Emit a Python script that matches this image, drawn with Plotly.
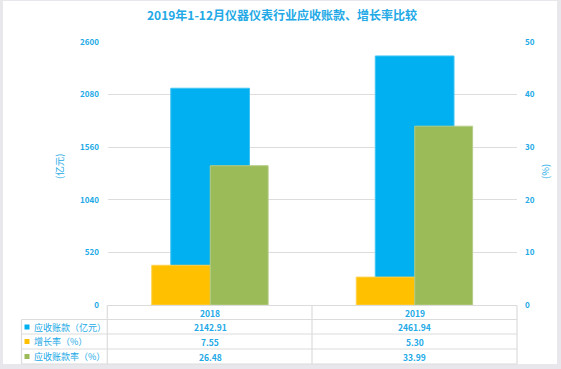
import plotly.graph_objects as go

# ---------------- data ----------------
categories = ["2018", "2019"]
receivables = [2142.91, 2461.94]        # 应收账款（亿元）
growth_rate = [7.55, 5.30]              # 增长率（%）
receivable_rate = [26.48, 33.99]        # 应收账款率（%）
series_names = ["应收账款（亿元）", "增长率（%）", "应收账款率（%）"]
left_ticks = [0, 520, 1040, 1560, 2080, 2600]
right_ticks = [0, 10, 20, 30, 40, 50]
title_text = "2019年1-12月仪器仪表行业应收账款、增长率比较"

# ---------------- style ----------------
BLUE = "#00B0F0"
YELLOW = "#FFC000"
GREEN = "#9BBB59"
TXT = "#22A9E6"
GRID = "#DDDDDD"
FONT = "Noto Sans CJK SC"

W, H = 561, 369
L, R, T, B = 108, 44, 42, 64
PW, PH = W - L - R, H - T - B


def px(x):
    return (x - L) / PW


def py(y):
    return (H - B - y) / PH


fig = go.Figure()
fig.add_trace(go.Bar(x=categories, y=receivables, name=series_names[0],
                     marker=dict(color=BLUE, line=dict(color="#3FC3F3", width=1)),
                     width=0.385, offset=-0.193, yaxis="y"))
fig.add_trace(go.Bar(x=categories, y=growth_rate, name=series_names[1],
                     marker=dict(color=YELLOW, line=dict(color="#FFD04D", width=1)),
                     width=0.287, offset=-0.286, yaxis="y2"))
fig.add_trace(go.Bar(x=categories, y=receivable_rate, name=series_names[2],
                     marker=dict(color=GREEN, line=dict(color="#B4CC85", width=1)),
                     width=0.283, offset=0.0, yaxis="y2"))

shapes = []
# outer frame: grey border strips
shapes.append(dict(type="rect", xref="paper", yref="paper", layer="below",
                   x0=px(3), x1=px(557), y0=py(364), y1=py(1),
                   fillcolor="white", line=dict(width=0)))

line_style = dict(color="#DCDCDC", width=1.2)
# table horizontal lines
shapes.append(dict(type="line", xref="paper", yref="paper", x0=px(107), x1=px(517),
                   y0=py(305.5), y1=py(305.5), line=line_style))
for yy in [319.5, 334, 349, 364]:
    shapes.append(dict(type="line", xref="paper", yref="paper", x0=px(21.5), x1=px(517),
                       y0=py(yy), y1=py(yy), line=line_style))
# table vertical lines
shapes.append(dict(type="line", xref="paper", yref="paper", x0=px(21.5), x1=px(21.5),
                   y0=py(319.5), y1=py(364), line=line_style))
for xx in [107.3, 312, 517]:
    shapes.append(dict(type="line", xref="paper", yref="paper", x0=px(xx), x1=px(xx),
                       y0=py(305.5), y1=py(364), line=line_style))

row_y = [327, 341.5, 356.5]
colors = [BLUE, YELLOW, GREEN]
for ry, c in zip(row_y, colors):
    shapes.append(dict(type="rect", xref="paper", yref="paper",
                       x0=px(24.5), x1=px(29.5), y0=py(ry - 2.5), y1=py(ry + 2.5),
                       fillcolor=c, line=dict(width=0)))

annotations = []
annotations.append(dict(text="<b>" + title_text + "</b>", xref="paper", yref="paper",
                        x=px(282), y=py(15), xanchor="center", yanchor="middle",
                        showarrow=False, font=dict(size=12, color=TXT, family=FONT)))
# axis titles
annotations.append(dict(text="(亿元)", xref="paper", yref="paper", x=px(59), y=py(167),
                        xanchor="center", yanchor="middle", textangle=-90, showarrow=False,
                        font=dict(size=9.5, color=TXT, family=FONT)))
annotations.append(dict(text="(%)", xref="paper", yref="paper", x=px(545), y=py(172),
                        xanchor="center", yanchor="middle", textangle=-90, showarrow=False,
                        font=dict(size=9.5, color=TXT, family=FONT)))
# table header row (categories); category axis positions are indices
for i, c in enumerate(categories):
    annotations.append(dict(text="<b>" + c + "</b>", x=i, xref="x", yref="paper",
                            y=py(312.5), xanchor="center", yanchor="middle", showarrow=False,
                            font=dict(size=8.5, color=TXT, family=FONT)))
# table rows
table_rows = [receivables, growth_rate, receivable_rate]
for name, vals, ry in zip(series_names, table_rows, row_y):
    annotations.append(dict(text=name, xref="paper", yref="paper", x=px(31.5), y=py(ry),
                            xanchor="left", yanchor="middle", showarrow=False,
                            font=dict(size=9, color=TXT, family=FONT)))
    for i, v in enumerate(vals):
        annotations.append(dict(text="<b>%.2f</b>" % v, x=i, xref="x", yref="paper",
                                y=py(ry), xanchor="center", yanchor="middle", showarrow=False,
                                font=dict(size=8.5, color=TXT, family=FONT)))

fig.update_layout(
    width=W, height=H,
    margin=dict(l=L, r=R, t=T, b=B, pad=0),
    paper_bgcolor="#E8E8EC",
    plot_bgcolor="rgba(0,0,0,0)",
    showlegend=False,
    barmode="overlay",
    font=dict(family=FONT, color=TXT, size=8),
    xaxis=dict(type="category", range=[-0.5, 1.5], showticklabels=False,
               showgrid=False, zeroline=False, showline=False, ticks=""),
    yaxis=dict(range=[0, 2600], tickvals=left_ticks, showgrid=True, gridcolor=GRID,
               gridwidth=1.2, zeroline=False, showline=False, ticks="",
               tickfont=dict(size=8, color=TXT, family=FONT, weight="bold"),
               ticklabelstandoff=8),
    yaxis2=dict(range=[0, 50], tickvals=right_ticks, overlaying="y", side="right",
                showgrid=False, zeroline=False, showline=False, ticks="",
                tickfont=dict(size=8, color=TXT, family=FONT, weight="bold"),
                ticklabelstandoff=7),
    shapes=shapes,
    annotations=annotations,
)

fig.write_html("out.html", config={"displayModeBar": False},
               post_script="document.body.style.margin='0';")
